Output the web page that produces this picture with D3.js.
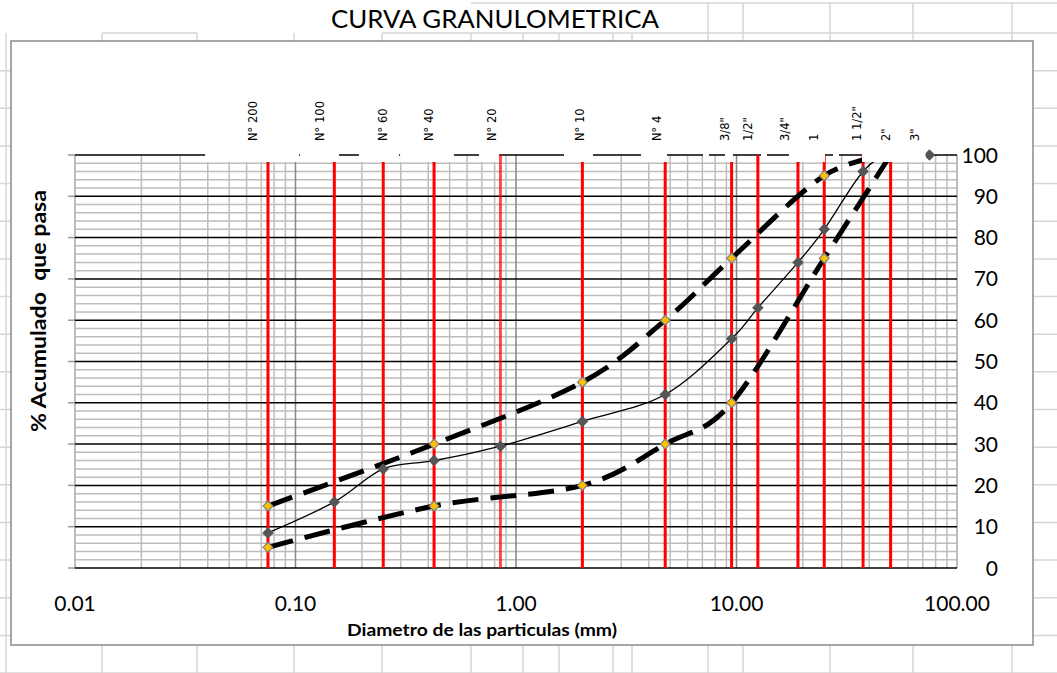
<!DOCTYPE html>
<html>
<head>
<meta charset="utf-8">
<script src="https://cdn.jsdelivr.net/npm/d3@7"></script>
<style>
  html, body { margin: 0; padding: 0; background: #fff; }
  svg { display: block; }
</style>
</head>
<body>
<svg id="chart" width="1057" height="673"></svg>
<script>
// Sieve series (ASTM sieve names and openings in mm)
const sieveNames = ["N° 200", "N° 100", "N° 60", "N° 40", "N° 20", "N° 10", "N° 4",
                    "3/8\"", "1/2\"", "3/4\"", "1", "1 1/2\"", "2\"", "3\""];
const sieveSizes = [0.075, 0.15, 0.25, 0.425, 0.85, 2, 4.75, 9.5, 12.5, 19, 25, 37.5, 50, 75];
const sieveHasLine = [true, true, true, true, true, true, true, true, true, true, true, true, true, false];

// % passing per sieve (null = no value at that sieve)
const samplePassing = [8.5, 16, 24, 26, 29.5, 35.5, 42, 55.5, 63, 74, 82, 96, 100, 100];
const upperLimit    = [15, null, null, 30, null, 45, 60, 75, null, null, 95, null, 100, null];
const lowerLimit    = [5, null, null, 15, null, 20, 30, 40, null, null, 75, null, 100, null];

// Axis ticks
const xTicks = [0.01, 0.1, 1, 10, 100];
const xTickLabels = ["0.01", "0.10", "1.00", "10.00", "100.00"];
const yTicks = [0, 10, 20, 30, 40, 50, 60, 70, 80, 90, 100];

// Label nudges (px) for the rotated sieve captions
const labelNudge = [-15, -14, 0, -5, -8, -2, -8, -7, -10, -13, -10, -6, -5, -14];

// Sieve-caption background patches along the top edge (mm ranges)
const capPatches = [[0.0389, 0.1038], [0.1049, 0.1575], [0.194, 0.2948], [0.298, 0.5233],
                    [0.6796, 0.837], [1.651, 2.235], [3.689, 4.838], [7.047, 7.505],
                    [8.867, 9.64], [12.91, 13.75], [17.3, 25.2], [27.39, 29.16], [37.08, 72]];

// Worksheet cell grid behind the chart
const colLines = [6, 102, 197, 294, 382, 471, 523, 559, 613, 632, 708, 743, 830, 913, 1012];
const rowStart = 33, rowStep = 37.65;

const W = 1057, H = 673;
const svg = d3.select("#chart");
const FONT = "Lato, 'Open Sans', sans-serif";

// ---- worksheet background ----
const sheet = svg.append("g").attr("stroke", "#d6d6d6").attr("stroke-width", 1.5);
for (let yy = rowStart + rowStep; yy < H + 1; yy += rowStep) {
  sheet.append("line").attr("x1", 0).attr("x2", W).attr("y1", yy).attr("y2", yy);
}
sheet.append("line").attr("x1", 471).attr("x2", W).attr("y1", 3).attr("y2", 3);
sheet.append("line").attr("x1", 102).attr("x2", 197).attr("y1", rowStart).attr("y2", rowStart);
sheet.append("line").attr("x1", 382).attr("x2", W).attr("y1", rowStart).attr("y2", rowStart);
colLines.forEach(cx => {
  const top = cx >= 700 ? 3 : rowStart;
  sheet.append("line").attr("x1", cx).attr("x2", cx).attr("y1", top).attr("y2", H);
});

// ---- chart area ----
svg.append("rect")
  .attr("x", 11).attr("y", 41).attr("width", 1022).attr("height", 604)
  .attr("fill", "#fff").attr("stroke", "#8a8a8a").attr("stroke-width", 1.5);

svg.append("text")
  .attr("x", 495).attr("y", 28)
  .attr("text-anchor", "middle")
  .attr("font-family", FONT).attr("font-size", 25)
  .attr("textLength", 328).attr("lengthAdjust", "spacingAndGlyphs")
  .attr("fill", "#000")
  .text("CURVA GRANULOMETRICA");

// ---- scales ----
const plot = { left: 75, right: 957, top: 155, bottom: 568 };
const x = d3.scaleLog().domain([0.01, 100]).range([plot.left, plot.right]);
const y = d3.scaleLinear().domain([0, 100]).range([plot.bottom, plot.top]);

// ---- grid ----
const grid = svg.append("g");
// minor horizontal (every 2 %)
d3.range(2, 100, 2).filter(v => v % 10 !== 0).forEach(v => {
  grid.append("line").attr("x1", plot.left).attr("x2", plot.right)
    .attr("y1", y(v)).attr("y2", y(v))
    .attr("stroke", "#bdbdbd").attr("stroke-width", 1.5);
});
// minor vertical (log)
[0.01, 0.1, 1, 10].forEach(d => {
  d3.range(2, 10).forEach(m => {
    grid.append("line").attr("x1", x(m * d)).attr("x2", x(m * d))
      .attr("y1", plot.top).attr("y2", plot.bottom)
      .attr("stroke", "#bdbdbd").attr("stroke-width", 1.5);
  });
});
// decade lines
xTicks.forEach((d, i) => {
  const edge = i === 0 || i === xTicks.length - 1;
  grid.append("line").attr("x1", x(d)).attr("x2", x(d))
    .attr("y1", plot.top).attr("y2", plot.bottom)
    .attr("stroke", edge ? "#a8a8a8" : "#868686").attr("stroke-width", 1.5);
});
// major horizontal + left tick marks
yTicks.forEach(v => {
  grid.append("line").attr("x1", plot.left).attr("x2", plot.right)
    .attr("y1", y(v)).attr("y2", y(v))
    .attr("stroke", "#000").attr("stroke-width", 1.5);
  grid.append("line").attr("x1", plot.left - 7).attr("x2", plot.left)
    .attr("y1", y(v)).attr("y2", y(v))
    .attr("stroke", "#9a9a9a").attr("stroke-width", 1.5);
});

// ---- sieve reference lines ----
const sieves = sieveSizes.map((s, i) => ({ size: s, name: sieveNames[i], line: sieveHasLine[i], nudge: labelNudge[i] }));
svg.append("g").selectAll("line")
  .data(sieves.filter(d => d.line))
  .join("line")
  .attr("x1", d => x(d.size)).attr("x2", d => x(d.size))
  .attr("y1", y(0)).attr("y2", y(100))
  .attr("stroke", "#ff0000")
  .attr("stroke-opacity", d => d.size === 0.85 ? 0.7 : 1)
  .attr("stroke-width", 3);

// ---- curves ----
function pts(values) {
  return sieveSizes.map((s, i) => ({ s, v: values[i] })).filter(d => d.v !== null);
}
const line = d3.line().x(d => x(d.s)).y(d => y(d.v)).curve(d3.curveCatmullRom.alpha(0));

const series = [
  { data: pts(upperLimit), dash: "26 12", width: 5, fill: "#ffc000", stroke: "#808080" },
  { data: pts(lowerLimit), dash: "26 12", width: 5, fill: "#ffc000", stroke: "#808080" },
  { data: pts(samplePassing), dash: null, width: 1.3, fill: "#555555", stroke: "#555555" }
];
const curves = svg.append("g");
series.forEach(sr => {
  curves.append("path")
    .attr("d", line(sr.data))
    .attr("fill", "none")
    .attr("stroke", "#000")
    .attr("stroke-width", sr.width)
    .attr("stroke-dasharray", sr.dash);
});
const diamond = d3.symbol().type(d3.symbolSquare).size(48);
series.forEach(sr => {
  curves.append("g").selectAll("path")
    .data(sr.data)
    .join("path")
    .attr("d", diamond)
    .attr("transform", d => `translate(${x(d.s)},${y(d.v)}) rotate(45)`)
    .attr("fill", sr.fill)
    .attr("stroke", sr.stroke)
    .attr("stroke-width", 1.2);
});

// ---- caption patches along the top edge ----
svg.append("g").selectAll("rect")
  .data(capPatches)
  .join("rect")
  .attr("x", d => x(d[0])).attr("width", d => x(d[1]) - x(d[0]))
  .attr("y", plot.top - 6).attr("height", 13)
  .attr("fill", "#fff");

// ---- sieve captions ----
svg.append("g").selectAll("text")
  .data(sieves)
  .join("text")
  .attr("transform", d => `translate(${x(d.size) + d.nudge + 4},141) rotate(-90)`)
  .attr("font-family", "'DejaVu Sans', Verdana, sans-serif")
  .attr("font-size", 11.5)
  .attr("fill", "#000")
  .text(d => d.name);

// ---- axis labels ----
svg.append("g").selectAll("text")
  .data(yTicks)
  .join("text")
  .attr("x", 998).attr("y", d => y(d)).attr("dy", "0.36em")
  .attr("text-anchor", "end")
  .attr("font-family", FONT).attr("font-size", 21)
  .attr("fill", "#000")
  .text(d => d);

svg.append("g").selectAll("text")
  .data(xTicks)
  .join("text")
  .attr("x", d => x(d)).attr("y", 611)
  .attr("text-anchor", "middle")
  .attr("font-family", FONT).attr("font-size", 21)
  .attr("fill", "#000")
  .text((d, i) => xTickLabels[i]);

svg.append("text")
  .attr("x", 482).attr("y", 636)
  .attr("text-anchor", "middle")
  .attr("font-family", FONT).attr("font-size", 17.5).attr("font-weight", "bold")
  .attr("textLength", 270).attr("lengthAdjust", "spacingAndGlyphs")
  .attr("fill", "#000")
  .text("Diametro de las particulas (mm)");

svg.append("text")
  .attr("transform", "translate(46,311) rotate(-90)")
  .attr("text-anchor", "middle")
  .attr("font-family", FONT).attr("font-size", 20).attr("font-weight", "bold")
  .attr("textLength", 242).attr("lengthAdjust", "spacingAndGlyphs")
  .attr("fill", "#000")
  .style("white-space", "pre")
  .text("% Acumulado  que pasa");
</script>
</body>
</html>
